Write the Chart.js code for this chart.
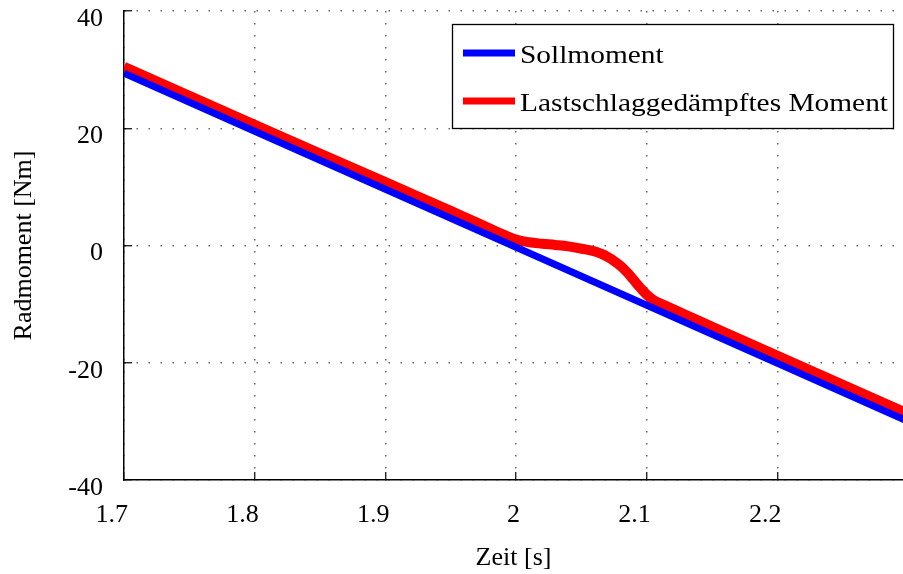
<!DOCTYPE html>
<html>
<head>
<meta charset="utf-8">
<script src="https://cdn.jsdelivr.net/npm/chart.js@4/dist/chart.umd.min.js"></script>
<style>
  body { margin: 0; background: #fff; }
</style>
</head>
<body>
<canvas id="chart" width="903" height="574"></canvas>
<script>
// Sollmoment
const zeitSoll = [1.7, 1.8, 1.9, 2.0, 2.1, 2.2, 2.3];
const sollMoment = [29.4, 19.5, 9.6, -0.3, -10.2, -20.1, -30.0];

// Lastschlaggedämpftes Moment
const zeitIst = [1.7, 1.8, 1.9, 1.95, 1.97, 1.98, 1.99, 2.0, 2.01, 2.02, 2.03, 2.04, 2.05, 2.06, 2.065,
                 2.07, 2.075, 2.08, 2.085, 2.09, 2.095, 2.1, 2.105, 2.11, 2.115, 2.12, 2.13, 2.15, 2.2, 2.3];
const gedaempftMoment = [30.5, 20.6, 10.8, 5.9, 3.9, 2.9, 1.9, 1.0, 0.55, 0.3, 0.1, -0.15, -0.55, -1.0, -1.4,
                         -1.95, -2.65, -3.5, -4.6, -5.9, -7.2, -8.4, -9.3, -9.85, -10.35, -10.85, -11.85, -13.85, -18.8, -28.7];

const yTicks = [-40, -20, 0, 20, 40];

Chart.defaults.font.family = "'Liberation Serif', serif";
Chart.defaults.font.size = 26;
Chart.defaults.color = '#000';

// Legende im Diagramm (oben rechts, mit Rahmen)
const boxLegend = {
    id: 'boxLegend',
    afterDatasetsDraw(chart) {
        const ctx = chart.ctx;
        const sets = chart.data.datasets;
        ctx.save();
        ctx.fillStyle = '#fff';
        ctx.fillRect(452, 24, 442, 105);
        ctx.strokeStyle = '#000';
        ctx.lineWidth = 1.3;
        ctx.strokeRect(452.5, 24.5, 441, 104);
        ctx.font = "26px 'Liberation Serif', serif";
        const longest = Math.max(...sets.map(d => ctx.measureText(d.label).width));
        const sx = 368 / longest;
        sets.forEach((d, i) => {
            const yLine = 53 + i * 48;
            ctx.strokeStyle = d.borderColor;
            ctx.lineWidth = 7;
            ctx.beginPath();
            ctx.moveTo(463, yLine);
            ctx.lineTo(515, yLine);
            ctx.stroke();
            ctx.save();
            ctx.translate(520, yLine + 9.5);
            ctx.scale(sx, 1);
            ctx.fillStyle = '#000';
            ctx.textBaseline = 'alphabetic';
            ctx.fillText(d.label, 0, 0);
            ctx.restore();
        });
        ctx.restore();
    }
};

new Chart(document.getElementById('chart'), {
    type: 'line',
    data: {
        datasets: [{
            label: 'Sollmoment',
            data: zeitSoll.map((t, i) => ({ x: t, y: sollMoment[i] })),
            borderColor: '#0000ff',
            borderWidth: 7,
            pointRadius: 0,
            clip: 0
        }, {
            label: 'Lastschlaggedämpftes Moment',
            data: zeitIst.map((t, i) => ({ x: t, y: gedaempftMoment[i] })),
            borderColor: '#ff0000',
            borderWidth: 10,
            pointRadius: 0,
            tension: 0.4,
            clip: 0
        }]
    },
    options: {
        responsive: false,
        animation: false,
        events: [],
        layout: { padding: { top: 11, right: 0, left: 0, bottom: 0 } },
        plugins: {
            legend: { display: false },
            tooltip: { enabled: false }
        },
        scales: {
            x: {
                type: 'linear',
                min: 1.7,
                max: 2.296,
                afterFit: s => { s.height = 94; s.paddingLeft = 0; s.paddingRight = 0; },
                title: { display: true, text: 'Zeit [s]', padding: { top: 0, bottom: 0 } },
                ticks: {
                    stepSize: 0.1,
                    includeBounds: false,
                    align: 'end',
                    labelOffset: 4,
                    padding: 28,
                    maxRotation: 0,
                    autoSkip: false,
                    callback: v => String(Math.round(v * 10) / 10)
                },
                grid: {
                    color: '#666',
                    lineWidth: 1.5,
                    tickLength: -8,
                    tickColor: '#000',
                    tickWidth: 1.2
                },
                border: { display: true, color: '#000', width: 1.5, dash: [1.5, 10.5] }
            },
            y: {
                min: -40,
                max: 40,
                afterFit: s => { s.width = 124; s.paddingTop = 0; s.paddingBottom = 0; },
                afterBuildTicks: s => { s.ticks = yTicks.map(v => ({ value: v })); },
                title: { display: true, text: 'Radmoment [Nm]', padding: { top: 9, bottom: 0 } },
                ticks: {
                    padding: 29,
                    labelOffset: 8,
                    callback: v => String(v)
                },
                grid: {
                    color: '#666',
                    lineWidth: 1.5,
                    tickLength: -8,
                    tickColor: '#000',
                    tickWidth: 1.2
                },
                border: { display: true, color: '#000', width: 1.5, dash: [1.5, 10.5] }
            }
        }
    },
    plugins: [boxLegend]
});
</script>
</body>
</html>
